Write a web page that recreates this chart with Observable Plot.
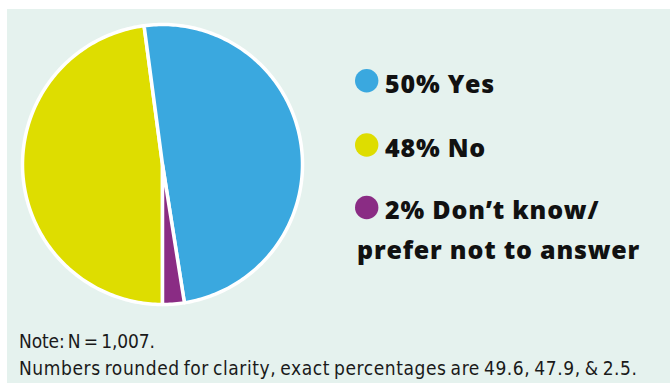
<!DOCTYPE html>
<html>
<head>
<meta charset="utf-8">
<script src="https://cdn.jsdelivr.net/npm/d3@7"></script>
<script src="https://cdn.jsdelivr.net/npm/@observablehq/plot@0.6"></script>
<style>
  html, body { margin: 0; padding: 0; background: #ffffff; }
  #wrap { position: relative; width: 670px; height: 383px; overflow: hidden; background: #ffffff; }
  #panel { position: absolute; left: 7px; top: 9px; right: 0; bottom: 0; background: #e5f2ee; }
  #pie { position: absolute; left: 12px; top: 14px; }
  #overlay { position: absolute; left: 0; top: 0; }
</style>
</head>
<body>
<div id="wrap">
  <div id="panel"></div>
  <div id="pie"></div>
  <svg id="overlay" width="670" height="383"></svg>
</div>
<script>
// ---- data ----
const categories = ["No", "Yes", "Don’t know/prefer not to answer"]; // drawn order, starting at 6 o'clock
const values = [47.9, 49.6, 2.5];
const colors = ["#dedd00", "#3aa8df", "#8a2c84"];
const legendCats = ["Yes", "No", "Don’t know/prefer not to answer"];
const legendLines = [["50% Yes"], ["48% No"], ["2% Don’t know/", "prefer not to answer"]];
const notes = ["Note: N = 1,007.", "Numbers rounded for clarity, exact percentages are 49.6, 47.9, & 2.5."];
const noteWidths = [136, 618];

// ---- pie geometry from the values ----
const arcs = d3.pie().sort(null).startAngle(Math.PI).endAngle(3 * Math.PI)(values);
const pts = [];
arcs.forEach((a, i) => {
  const key = categories[i];
  pts.push({key, x: 0, y: 0});
  const n = Math.max(2, Math.ceil((a.endAngle - a.startAngle) / (Math.PI / 180)));
  for (let k = 0; k <= n; k++) {
    const t = a.startAngle + (a.endAngle - a.startAngle) * k / n;
    pts.push({key, x: Math.sin(t), y: Math.cos(t)});
  }
});

const chart = Plot.plot({
  width: 300,
  height: 300,
  margin: 0,
  x: {domain: [-1, 1], range: [10, 290], axis: null},
  y: {domain: [-1, 1], range: [290, 10], axis: null},
  color: {domain: categories, range: colors},
  style: {background: "transparent"},
  marks: [
    Plot.line(pts, {x: "x", y: "y", z: "key", fill: "key", stroke: "white", strokeWidth: 3.5, strokeLinejoin: "round", curve: "linear-closed"})
  ]
});
document.getElementById("pie").appendChild(chart);

// ---- legend & notes ----
const svg = d3.select("#overlay");
const colorOf = c => colors[categories.indexOf(c)];
const rowY = [93, 157, 219];
const dotY = [80.7, 145, 207.5];
legendCats.forEach((c, i) => {
  svg.append("circle").attr("cx", 366.7).attr("cy", dotY[i]).attr("r", 11.7).attr("fill", colorOf(c));
  legendLines[i].forEach((line, j) => {
    svg.append("text")
      .attr("x", j === 0 ? 385 : 357)
      .attr("y", rowY[i] + j * 40)
      .attr("font-family", "'Open Sans', sans-serif")
      .attr("font-weight", 800)
      .attr("font-size", 25)
      .attr("letter-spacing", 0.8)
      .attr("fill", "#111111")
      .text(line);
  });
});
notes.forEach((t, i) => {
  svg.append("text")
    .attr("x", 19)
    .attr("y", 348 + i * 27)
    .attr("font-family", "'DejaVu Sans Condensed', 'DejaVu Sans', sans-serif")
    .attr("font-stretch", "condensed")
    .attr("font-weight", 400)
    .attr("font-size", 19)
    .attr("word-spacing", -2)
    .attr("textLength", noteWidths[i])
    .attr("lengthAdjust", "spacing")
    .attr("fill", "#1a1a1a")
    .text(t);
});
</script>
</body>
</html>
